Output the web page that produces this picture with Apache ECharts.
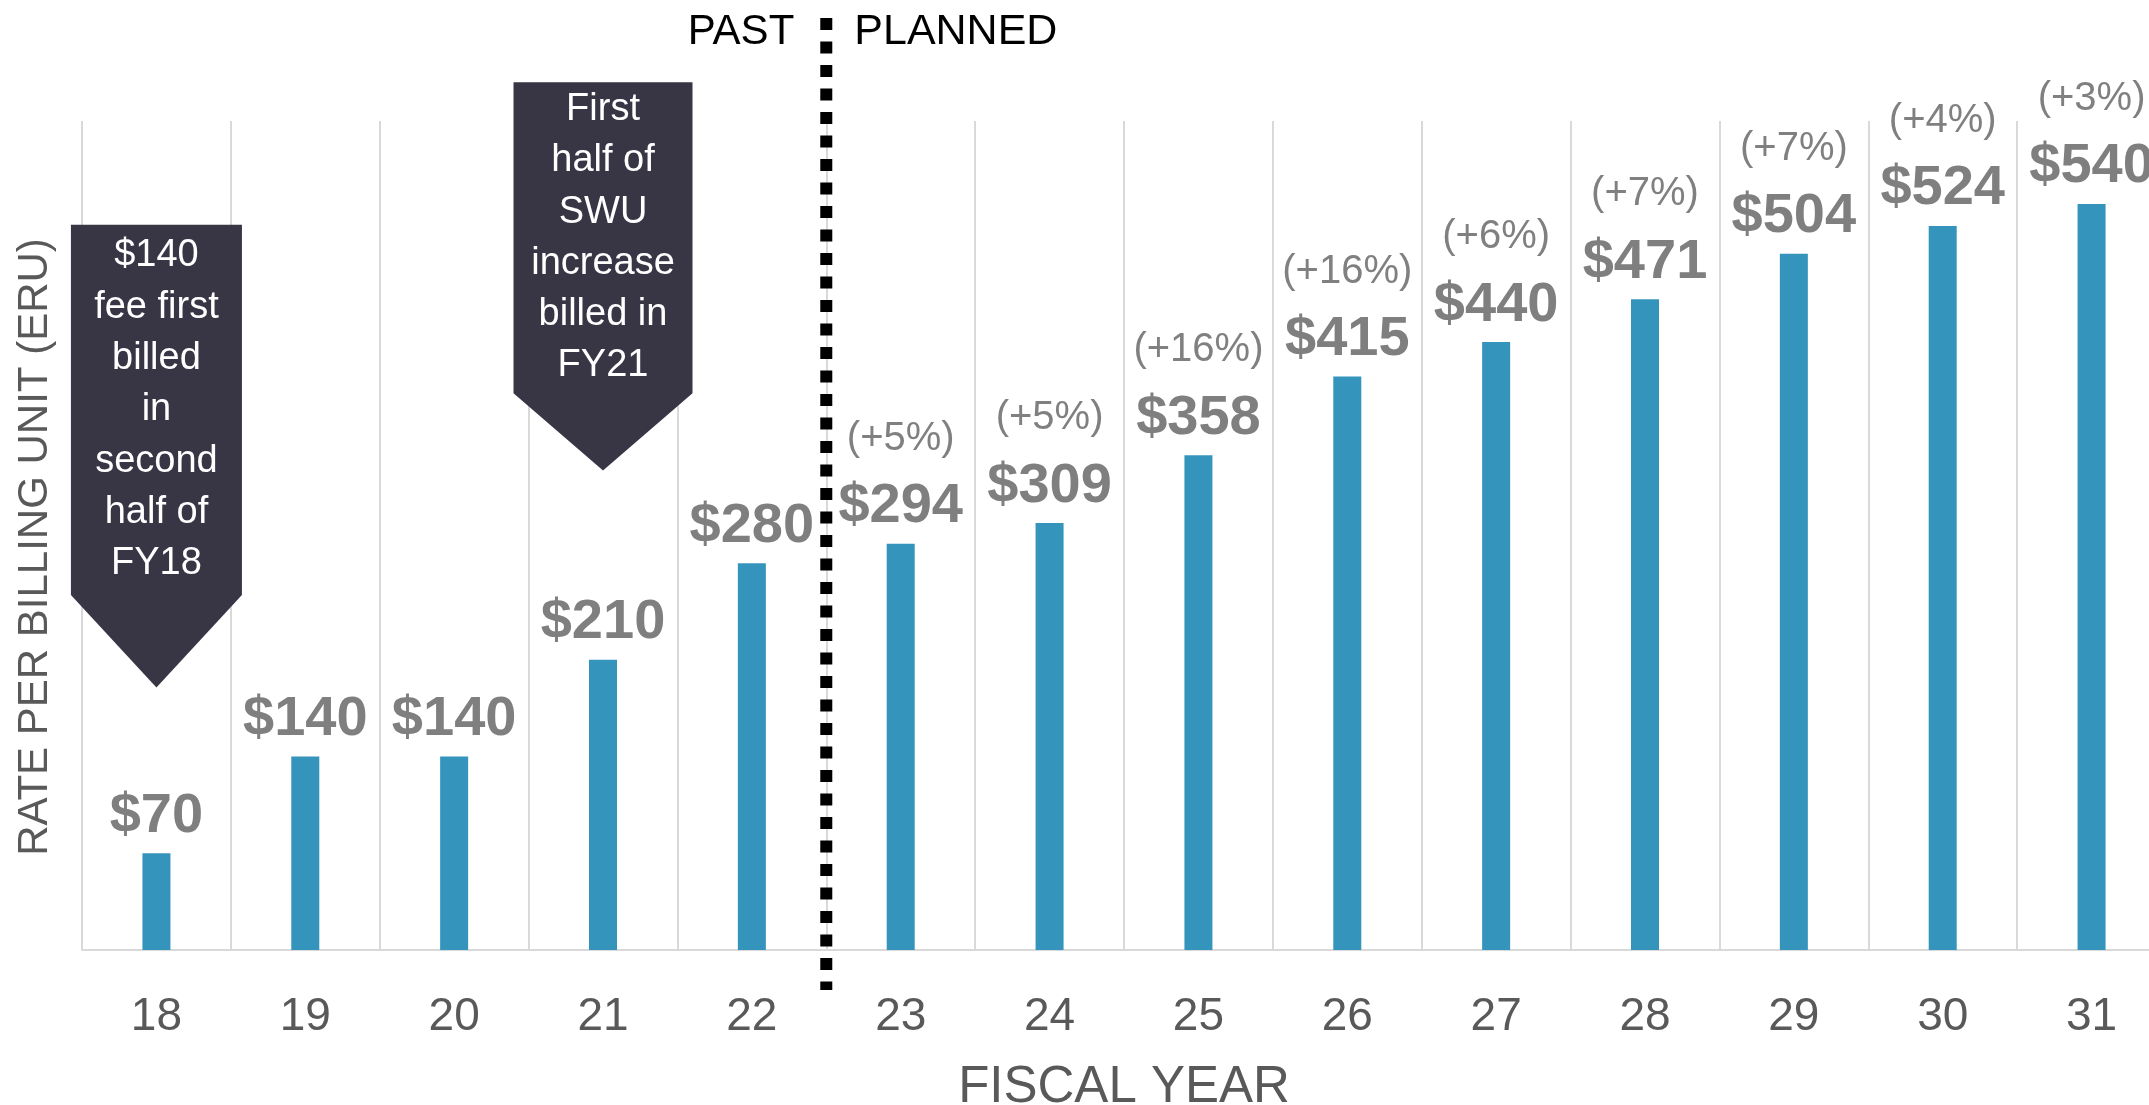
<!DOCTYPE html>
<html>
<head>
<meta charset="utf-8">
<script src="https://cdn.jsdelivr.net/npm/echarts@6/dist/echarts.min.js"></script>
<style>
  html, body { margin: 0; padding: 0; background: #fff; }
  #chart { width: 2149px; height: 1105px; }
</style>
</head>
<body>
<div id="chart"></div>
<script>
const years = ['18', '19', '20', '21', '22', '23', '24', '25', '26', '27', '28', '29', '30', '31']
const rates = [70, 140, 140, 210, 280, 294, 309, 358, 415, 440, 471, 504, 524, 540]
const changes = ['', '', '', '', '', '+5%', '+5%', '+16%', '+16%', '+6%', '+7%', '+7%', '+4%', '+3%']
const lastPast = '22'
const firstPlanned = '23'
const noteYears = ['18', '21']
const noteTexts = [
  ['$140', 'fee first', 'billed', 'in', 'second', 'half of', 'FY18'],
  ['First', 'half of', 'SWU', 'increase', 'billed in', 'FY21'],
]

// callout geometry, in y-axis units (box top, box bottom, arrow tip) and px width
const noteShapes = [
  { top: 525, body: 257, tip: 190, width: 171 },
  { top: 628, body: 403, tip: 347, width: 179 },
]

const FONT = '"Liberation Sans", Arial, sans-serif'

const chart = echarts.init(document.getElementById('chart'))

const option = {
  animation: false,
  backgroundColor: '#fff',
  grid: { left: 82, top: 121, width: 2084, height: 829, outerBoundsMode: 'none', containLabel: false },
  xAxis: {
    type: 'category',
    data: years,
    axisTick: { show: false },
    axisLine: { lineStyle: { color: '#d9d9d9', width: 2 } },
    splitLine: { show: true, interval: 0, lineStyle: { color: '#d9d9d9', width: 2 } },
    axisLabel: { interval: 0, margin: 44, fontSize: 46, color: '#595959', fontFamily: FONT },
    name: 'FISCAL YEAR',
    nameLocation: 'middle',
    nameGap: 112,
    nameTextStyle: { fontSize: 51, color: '#595959', fontFamily: FONT },
  },
  yAxis: {
    type: 'value',
    min: 0,
    max: 600,
    axisLine: { show: false },
    axisTick: { show: false },
    axisLabel: { show: false },
    splitLine: { show: false },
    name: 'RATE PER BILLING UNIT (ERU)',
    nameLocation: 'middle',
    nameRotate: 90,
    nameGap: 26,
    nameTextStyle: { fontSize: 42, color: '#595959', fontFamily: FONT, padding: [0, 23, 0, 0] },
  },
  series: [
    {
      type: 'bar',
      data: rates,
      barWidth: 28,
      itemStyle: { color: '#3594bb' },
      label: {
        show: true,
        position: 'top',
        distance: 4,
        formatter: (p) => {
          const c = changes[p.dataIndex]
          return c ? `{p|(${c})}\n{v|$${p.value}}` : `{v|$${p.value}}`
        },
        rich: {
          p: { fontSize: 40, color: '#808080', lineHeight: 70, fontFamily: FONT },
          v: { fontSize: 56, fontWeight: 'bold', color: '#7f7f7f', lineHeight: 66, fontFamily: FONT },
        },
      },
    },
  ],
}

chart.setOption(option)

// annotations placed through the axes
const xPx = (v) => chart.convertToPixel({ xAxisIndex: 0 }, v)
const yPx = (v) => chart.convertToPixel({ yAxisIndex: 0 }, v)

const divider = (xPx(lastPast) + xPx(firstPlanned)) / 2
const graphics = [
  {
    type: 'line',
    z: 10,
    shape: { x1: divider, y1: 18, x2: divider, y2: yPx(0) + 40 },
    style: { stroke: '#000', lineWidth: 12, lineDash: [12, 11.5] },
  },
  {
    type: 'text',
    z: 10,
    style: { text: 'PAST', x: divider - 32, y: 32, textAlign: 'right', textVerticalAlign: 'middle', fontSize: 42, fontFamily: FONT, fill: '#000' },
  },
  {
    type: 'text',
    z: 10,
    style: { text: 'PLANNED', x: divider + 28, y: 32, textAlign: 'left', textVerticalAlign: 'middle', fontSize: 43, fontFamily: FONT, fill: '#000' },
  },
]

noteYears.forEach((year, i) => {
  const s = noteShapes[i]
  const cx = xPx(year)
  const half = s.width / 2
  const top = yPx(s.top)
  const body = yPx(s.body)
  const tip = yPx(s.tip)
  graphics.push({
    type: 'polygon',
    z: 10,
    shape: { points: [[cx - half, top], [cx + half, top], [cx + half, body], [cx, tip], [cx - half, body]] },
    style: { fill: '#383545' },
  })
  graphics.push({
    type: 'text',
    z: 11,
    style: {
      text: noteTexts[i].join('\n'),
      x: cx,
      y: (top + body) / 2,
      textAlign: 'center',
      textVerticalAlign: 'middle',
      fontSize: 38,
      lineHeight: 51.3,
      fontFamily: FONT,
      fill: '#fff',
    },
  })
})

chart.setOption({ graphic: graphics })
</script>
</body>
</html>
